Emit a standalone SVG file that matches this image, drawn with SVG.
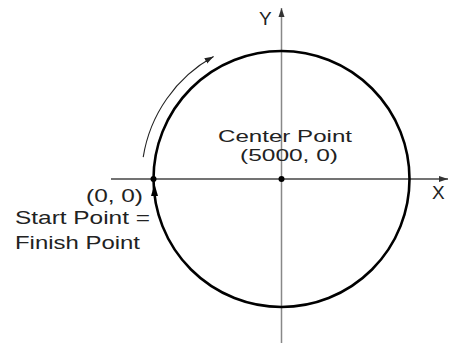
<svg xmlns="http://www.w3.org/2000/svg" width="451" height="343" viewBox="0 0 451 343">
<style>
text{font-family:"Liberation Sans",Arial,sans-serif;font-size:19px;fill:#222}
text.c{font-size:17.4px}
.axisx{stroke:#444;stroke-width:1.5;fill:none}
.axisy{stroke:#888;stroke-width:1.5;fill:none}
.circ{stroke:#000;stroke-width:2.6;fill:none}
.dir{stroke:#222;stroke-width:1.1;fill:none}
</style>
<defs>
<marker id="ah" markerWidth="10" markerHeight="8" refX="9" refY="4" orient="auto" markerUnits="userSpaceOnUse">
<path d="M0,1 L9,4 L0,7 Z" fill="#222"/>
</marker>
<marker id="ahax" markerWidth="10" markerHeight="8" refX="9" refY="4" orient="auto" markerUnits="userSpaceOnUse">
<path d="M0,1 L9,4 L0,7 Z" fill="#333"/>
</marker>
</defs>
<g id="axes">
<line class="axisx" x1="111" y1="179" x2="448" y2="179" marker-end="url(#ahax)"/>
<line class="axisy" x1="281.5" y1="343" x2="281.5" y2="8" marker-end="url(#ahax)"/>
<text x="259" y="25">Y</text>
<text x="432" y="199">X</text>
</g>
<g id="circle">
<circle class="circ" cx="281.5" cy="179" r="128"/>
<path d="M154.5,184 L151,196 L158,196 Z" fill="#000"/>
</g>
<g id="connectors">
<path class="dir" d="M143.2,157.1 A140,140 0 0,1 213.6,56.6" marker-end="url(#ah)"/>
</g>
<g id="center">
<circle cx="281.5" cy="179" r="3" fill="#000"/>
<text class="c" x="218" y="141.5" textLength="134" lengthAdjust="spacingAndGlyphs">Center Point</text>
<text class="c" x="240" y="161" textLength="98" lengthAdjust="spacingAndGlyphs">(5000, 0)</text>
</g>
<g id="start">
<circle cx="153.5" cy="179" r="3" fill="#000"/>
<text x="86" y="202" textLength="57" lengthAdjust="spacingAndGlyphs">(0, 0)</text>
<text x="15" y="224" textLength="135" lengthAdjust="spacingAndGlyphs">Start Point =</text>
<text x="15" y="249" textLength="125" lengthAdjust="spacingAndGlyphs">Finish Point</text>
</g>
</svg>
